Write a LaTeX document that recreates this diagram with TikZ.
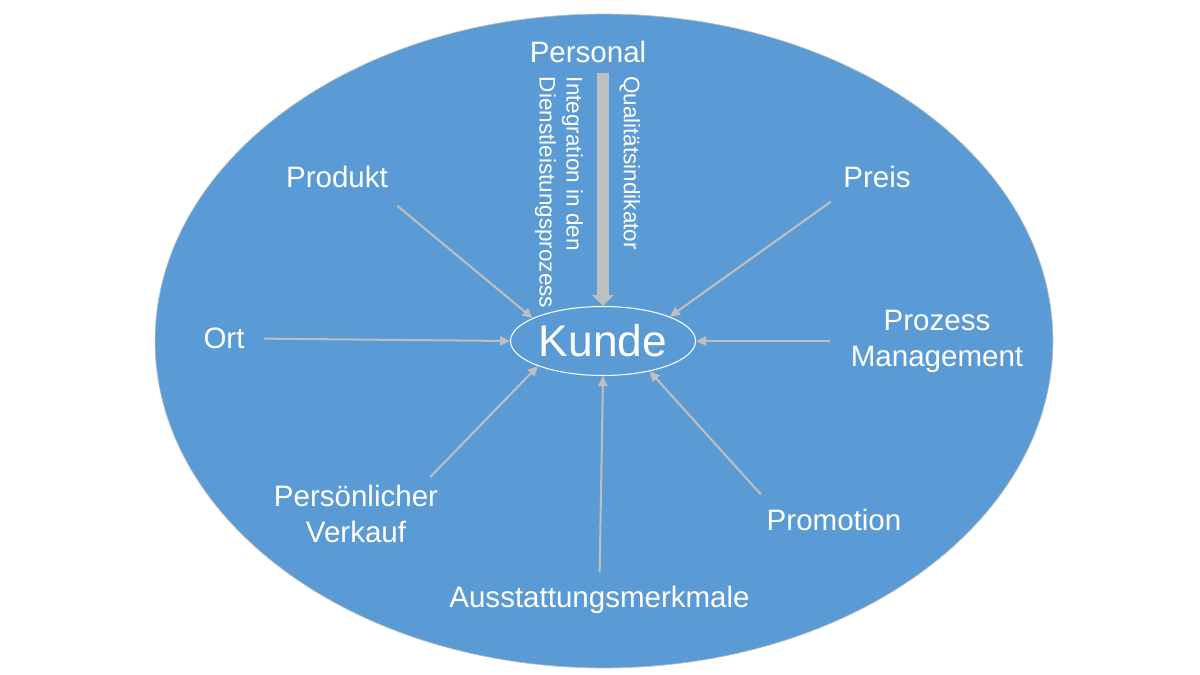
\documentclass[tikz,border=0pt]{standalone}
\usepackage{fontspec}
\setmainfont{Liberation Sans}
\usepackage{tikz}
\usetikzlibrary{arrows.meta,positioning,shapes.geometric}
\definecolor{mixblue}{HTML}{5B9BD5}
\definecolor{rimgray}{HTML}{B4BCC4}
\definecolor{arrowgray}{HTML}{BFBFBF}
\tikzset{
  mixlabel/.style={text=white,align=center,inner sep=2pt,
                   font=\fontsize{16.8}{20.5}\selectfont},
  sidelabel/.style={text=white,align=left,inner sep=0pt,rotate=-90,
                    font=\fontsize{12.8}{15.4}\selectfont},
  core/.style={ellipse,draw=white,line width=0.6pt,text=white,
               minimum width=3.7cm,minimum height=1.38cm,inner sep=0pt,
               font=\fontsize{25.2}{30}\selectfont},
  mixarr/.style={-{Triangle[length=5.7pt,width=5.2pt]},draw=arrowgray,line width=1.15pt},
  bigarr/.style={-{Triangle[length=6.3pt,width=12pt]},draw=arrowgray,line width=6.8pt}
}

\begin{document}
\begin{tikzpicture}[x=0.02cm,y=-0.02cm,>=Latex]
  \useasboundingbox (0,0) rectangle (1200,675);
  % blue disc behind everything
  \draw[fill=mixblue,draw=rimgray,line width=0.4pt] (604,341) ellipse [x radius=8.98cm,y radius=6.54cm];

  % customer in the middle
  \node[core] (kunde) at (603,341) {Kunde};

  % the mix elements around it
  \node[mixlabel] (personal) at (588,51.5)   {Personal};
  \node[mixlabel] (produkt)  at (337,176.5)  {Produkt};
  \node[mixlabel] (preis)    at (877,176.5)  {Preis};
  \node[mixlabel] (ort)      at (224,338.5)  {Ort};
  \node[mixlabel] (prozess)  at (937,341)    {Prozess\\Management};
  \node[mixlabel] (perso)    at (356,514)    {Persönlicher\\Verkauf};
  \node[mixlabel] (promo)    at (834,519.5)  {Promotion};
  \node[mixlabel] (ausst)    at (599.5,599.5) {Ausstattungsmerkmale};

  % personal: thick arrow with its two side notes
  \draw[bigarr,shorten <=3.7pt] (kunde.north |- personal.south) -- (kunde.north);
  \node[sidelabel] (quali) at (630,163)   {Qualitätsindikator};
  \node[sidelabel] (integ) at (559,192.5) {Integration in den\\Dienstleistungsprozess};

  % thin arrows into the customer
  \foreach \src/\dst/\gap in {produkt.-19/kunde.162/13pt, preis.205/kunde.20/10.2pt,
                              ort.east/kunde.west/8.8pt, prozess.west/kunde.east/9.7pt,
                              perso.25.5/kunde.201/3.2pt, promo.167/kunde.327/8pt,
                              ausst.north/kunde.south/5.4pt}
    \draw[mixarr,shorten <=\gap] (\src) -- (\dst);
\end{tikzpicture}
\end{document}
